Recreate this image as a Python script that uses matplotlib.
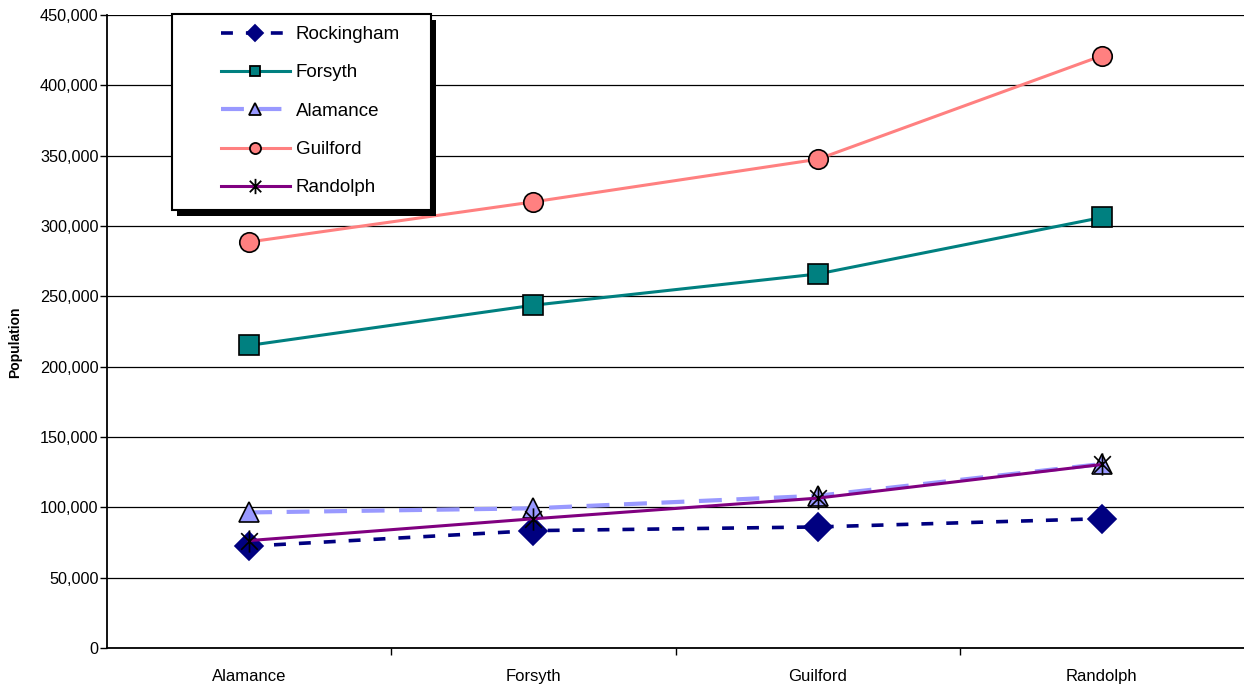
import matplotlib
matplotlib.use("Agg")
import matplotlib.pyplot as plt
from matplotlib.lines import Line2D
from matplotlib.path import Path
from matplotlib.patches import Rectangle
from matplotlib.ticker import FuncFormatter, FixedLocator
from matplotlib.legend_handler import HandlerLine2D

plt.rcParams['font.family'] = ['Liberation Sans', 'DejaVu Sans']

categories = ["Alamance", "Forsyth", "Guilford", "Randolph"]
rockingham = [72402, 83426, 86064, 91928]
forsyth = [215118, 243683, 265878, 306067]
alamance = [96362, 99319, 108213, 130800]
guilford = [288645, 317154, 347420, 421048]
randolph = [76358, 91861, 106546, 130454]

# asterisk marker: vertical stroke plus an X
star_path = Path(
    [(0, -1), (0, 1), (-0.75, -0.75), (0.75, 0.75), (-0.75, 0.75), (0.75, -0.75)],
    [Path.MOVETO, Path.LINETO, Path.MOVETO, Path.LINETO, Path.MOVETO, Path.LINETO],
)

series = [
    dict(label="Rockingham", y=rockingham, color="#000080", ls=(0, (3.3, 3.6)), lw=2.6,
         marker="D", ms=14, mfc="#000080", mec="#000080", lms=8),
    dict(label="Forsyth", y=forsyth, color="#008080", ls="-", lw=2.2,
         marker="s", ms=14, mfc="#008080", mec="black", lms=7),
    dict(label="Alamance", y=alamance, color="#9999FF", ls=(0, (5.5, 3.5)), lw=3.0,
         marker="^", ms=15, mfc="#9999FF", mec="black", lms=9),
    dict(label="Guilford", y=guilford, color="#FF8080", ls="-", lw=2.2,
         marker="o", ms=14, mfc="#FF8080", mec="black", lms=8),
    dict(label="Randolph", y=randolph, color="#800080", ls="-", lw=2.2,
         marker=star_path, ms=16, mfc="black", mec="black", lms=11),
]


class InsetLine(HandlerLine2D):
    """Legend line that leaves a blank gap on its left side."""
    def __init__(self, gap, **kw):
        super().__init__(**kw)
        self.gap = gap

    def get_xdata(self, legend, xdescent, ydescent, width, height, fontsize):
        x0 = -xdescent + self.gap
        x1 = -xdescent + width
        return [x0, x1], [(x0 + x1) / 2]


fig = plt.figure(figsize=(12.44, 6.88), dpi=100)
ax = fig.add_axes([107 / 1244, 1 - 648 / 688, 1 - 107 / 1244, (648 - 15) / 688])

x = list(range(len(categories)))
handles = []
for s in series:
    ax.plot(x, s["y"], color=s["color"], ls=s["ls"], lw=s["lw"], marker=s["marker"],
            ms=s["ms"], mfc=s["mfc"], mec=s["mec"], mew=1.2, zorder=3, clip_on=False)
    handles.append(Line2D([], [], color=s["color"], ls=s["ls"], lw=s["lw"],
                          marker=s["marker"], ms=s["lms"], mfc=s["mfc"], mec=s["mec"],
                          mew=1.3, label=s["label"]))

ax.set_xlim(-0.5, 3.5)
ax.set_ylim(0, 450000)
ax.set_yticks(range(0, 450001, 50000))
ax.yaxis.set_major_formatter(FuncFormatter(lambda v, p: f"{int(v):,}"))
ax.yaxis.grid(True, color="black", lw=0.9)
ax.set_axisbelow(True)

ax.set_xticks(x)
ax.set_xticklabels(categories)
ax.xaxis.set_minor_locator(FixedLocator([0.5, 1.5, 2.5]))
ax.tick_params(axis="x", which="major", length=0, pad=15, labelsize=12)
ax.tick_params(axis="x", which="minor", length=5, width=1, direction="out")
ax.tick_params(axis="y", length=5, width=1, direction="out", labelsize=11.7, pad=1)

for side in ("top", "right"):
    ax.spines[side].set_visible(False)
for side in ("left", "bottom"):
    ax.spines[side].set_linewidth(1.3)
    ax.spines[side].set_color("black")

ax.set_ylabel("Population", fontsize=10, fontweight="bold")
ax.yaxis.set_label_coords(-0.075, 0.483)

# legend box with a solid drop shadow, drawn in pixel coordinates
box_x, box_top, box_w, box_h = 172, 14, 259, 196
fh = 688
shadow = Rectangle((box_x + 5, fh - box_top - box_h - 6), box_w, box_h,
                   transform=None, facecolor="black", edgecolor="none", zorder=9)
frame = Rectangle((box_x, fh - box_top - box_h), box_w, box_h,
                  transform=None, facecolor="white", edgecolor="black", lw=1.5, zorder=9.5)
fig.add_artist(shadow)
fig.add_artist(frame)

fs = 13.5
gap_px = 28
leg = fig.legend(handles=handles, loc="upper left",
                 bbox_to_anchor=((box_x + 10) / 1244, 1 - (box_top + 12) / fh),
                 bbox_transform=fig.transFigure, borderaxespad=0, borderpad=0,
                 fontsize=fs, handlelength=(290 - 182) / (fs * 100 / 72),
                 handletextpad=0.3, labelspacing=1.13, frameon=False,
                 handler_map={Line2D: InsetLine(gap_px)})
leg.set_zorder(10)

fig.savefig("out.png", dpi=100)
